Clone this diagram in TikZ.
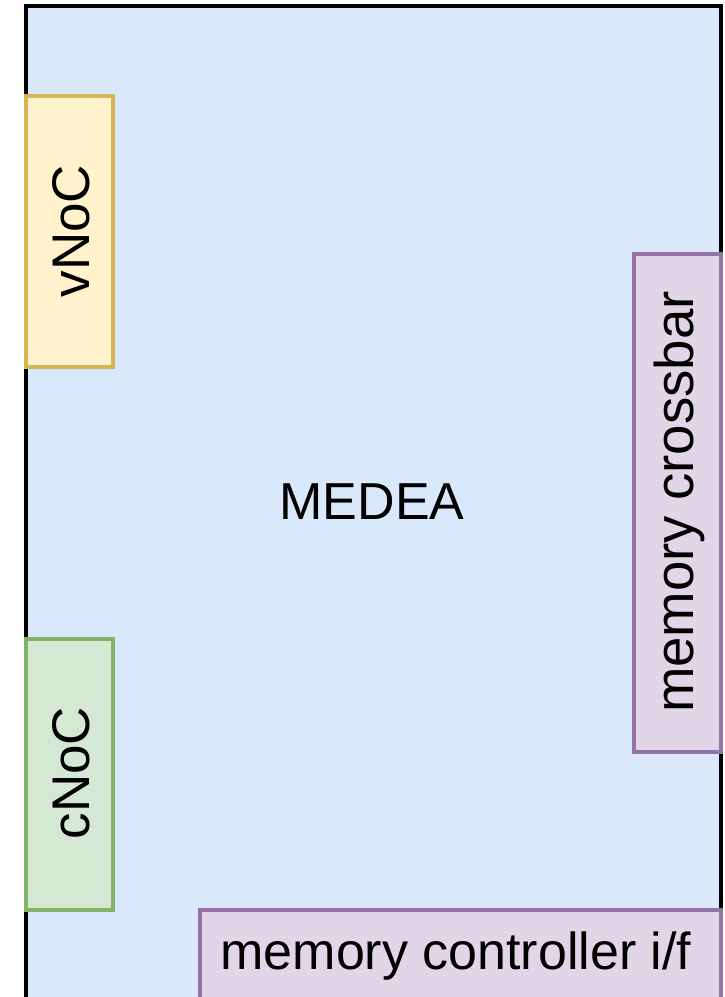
\documentclass[tikz,border=0pt]{standalone}
\usepackage{fontspec}
\setmainfont{Liberation Sans}
\definecolor{bluefill}{HTML}{DAE8FC}
\definecolor{yelfill}{HTML}{FFF2CC}
\definecolor{yelline}{HTML}{D6B656}
\definecolor{grnfill}{HTML}{D5E8D4}
\definecolor{grnline}{HTML}{82B366}
\definecolor{purfill}{HTML}{E1D5E7}
\definecolor{purline}{HTML}{9673A6}
\begin{document}
\begin{tikzpicture}[x=0.5pt,y=-0.5pt,
  box/.style={line width=2pt},
  lbl/.style={font=\fontsize{26}{30}\selectfont, inner sep=0pt}]
\useasboundingbox (0,0) rectangle (724,997);
\clip (0,0) rectangle (724,997);
\draw[box, draw=black, fill=bluefill] (26,6) rectangle (720.5,1020);
\draw[box, draw=yelline, fill=yelfill] (26,96) rectangle (113,367);
\draw[box, draw=grnline, fill=grnfill] (26,639) rectangle (113,910);
\draw[box, draw=purline, fill=purfill] (634,254) rectangle (721,752);
\draw[box, draw=purline, fill=purfill] (200,910) rectangle (721,1020);
\node[lbl] (medea) at (372,502) {MEDEA};
\node[lbl, rotate=90, font=\fontsize{26.5}{30}\selectfont] (vnoc) at (71,231) {vNoC};
\node[lbl, rotate=90, font=\fontsize{26.5}{30}\selectfont] (cnoc) at (71,773) {cNoC};
\node[lbl, rotate=90, font=\fontsize{27.3}{30}\selectfont] (xbar) at (679,502) {memory crossbar};
\node[lbl] (mcif) at (456,956) {memory controller i/f};
\end{tikzpicture}
\end{document}
